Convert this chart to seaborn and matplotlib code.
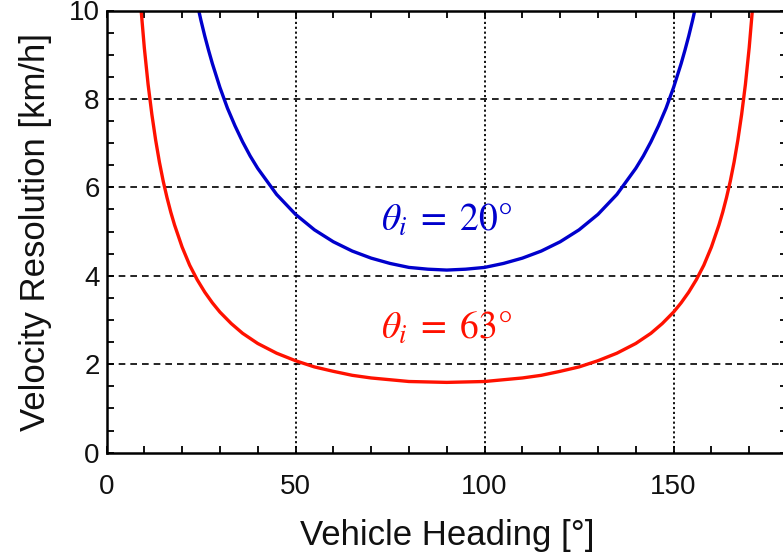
import numpy as np
import pandas as pd
import matplotlib
matplotlib.use("Agg")
import matplotlib.pyplot as plt
from matplotlib.ticker import MultipleLocator
import seaborn as sns

# Vehicle heading [deg] and velocity resolution [km/h]
heading_20 = [24, 25, 26, 27, 28, 30, 32, 34, 36, 38, 40, 45, 50, 55, 60, 65, 70, 75, 80, 85, 90,
              95, 100, 105, 110, 115, 120, 125, 130, 135, 140, 142, 144, 146, 148, 150, 152,
              153, 154, 155, 156]
res_20 = [10.15, 9.77, 9.42, 9.10, 8.80, 8.26, 7.79, 7.39, 7.03, 6.71, 6.43, 5.84, 5.39, 5.04,
          4.77, 4.56, 4.40, 4.28, 4.19, 4.15, 4.13,
          4.15, 4.19, 4.28, 4.40, 4.56, 4.77, 5.04, 5.39, 5.84, 6.43, 6.71, 7.03, 7.39, 7.79,
          8.26, 8.80, 9.10, 9.42, 9.77, 10.15]

heading_63 = [9, 10, 11, 12, 13, 14, 15, 16, 17, 18, 20, 22, 24, 26, 28, 30, 33, 36, 40, 45,
              50, 55, 60, 65, 70, 75, 80, 85, 90,
              95, 100, 105, 110, 115, 120, 125, 130, 135, 140, 144, 147, 150, 152, 154, 156,
              158, 160, 162, 163, 164, 165, 166, 167, 168, 169, 170, 171]
res_63 = [10.17, 9.16, 8.33, 7.65, 7.07, 6.57, 6.14, 5.77, 5.44, 5.15, 4.65, 4.24, 3.91, 3.63,
          3.39, 3.18, 2.92, 2.70, 2.47, 2.25, 2.08, 1.94, 1.84, 1.75, 1.69, 1.65, 1.61, 1.60, 1.59,
          1.60, 1.61, 1.65, 1.69, 1.75, 1.84, 1.94, 2.08, 2.25, 2.47, 2.70, 2.92, 3.18, 3.39,
          3.63, 3.91, 4.24, 4.65, 5.15, 5.44, 5.77, 6.14, 6.57, 7.07, 7.65, 8.33, 9.16, 10.17]

series_names = ["20", "63"]
series_colors = ["#0000CC", "#FF1100"]
x_ticks = [0, 50, 100, 150]
y_ticks = [0, 2, 4, 6, 8, 10]

df = pd.concat([
    pd.DataFrame({"heading": heading_20, "res": res_20, "theta": series_names[0]}),
    pd.DataFrame({"heading": heading_63, "res": res_63, "theta": series_names[1]}),
])

sns.set_theme(style="ticks")
plt.rcParams["font.family"] = ["Liberation Sans", "DejaVu Sans"]
plt.rcParams["mathtext.fontset"] = "stix"

fig = plt.figure(figsize=(7.83, 5.55), dpi=100)
ax = fig.add_axes([106.5 / 783, 102.3 / 555, (787 - 106.5) / 783, (452.7 - 10.5) / 555])

sns.lineplot(data=df, x="heading", y="res", hue="theta", palette=series_colors,
             linewidth=2.4, ax=ax, legend=False, sort=True, estimator=None)

ax.set_xlim(0, 180)
ax.set_ylim(0, 10)
ax.set_xticks(x_ticks)
ax.set_yticks(y_ticks)
ax.xaxis.set_minor_locator(MultipleLocator(10))
ax.yaxis.set_minor_locator(MultipleLocator(0.5))

ax.tick_params(which="both", direction="in", top=True, right=True, width=1.3, color="black")
ax.tick_params(which="major", length=5)
ax.tick_params(which="minor", length=5)
ax.tick_params(axis="x", which="major", labelsize=20, pad=15, colors="black")
ax.tick_params(axis="y", which="major", labelsize=20, pad=5, colors="black")
for lbl in ax.get_xticklabels() + ax.get_yticklabels():
    lbl.set_color("#111111")

for s in ax.spines.values():
    s.set_linewidth(1.8)
    s.set_color("black")

for y in y_ticks[1:-1]:
    ax.axhline(y, color="black", linestyle=(0, (4, 3)), linewidth=1.2, zorder=1)
for x in x_ticks[1:]:
    ax.axvline(x, color="black", linestyle=(0, (1.2, 1.5)), linewidth=1.3, zorder=1)

ax.set_xlabel("Vehicle Heading [°]", fontsize=25, labelpad=14, color="#111111")
ax.set_ylabel("Velocity Resolution [km/h]", fontsize=25, labelpad=12, color="#111111")

ax.text(90, 5.25, r"$\theta_i\;=\;20°$", color=series_colors[0], fontsize=27,
        ha="center", va="center")
ax.text(90, 2.8, r"$\theta_i\;=\;63°$", color=series_colors[1], fontsize=27,
        ha="center", va="center")

fig.savefig("out.png", dpi=100)
